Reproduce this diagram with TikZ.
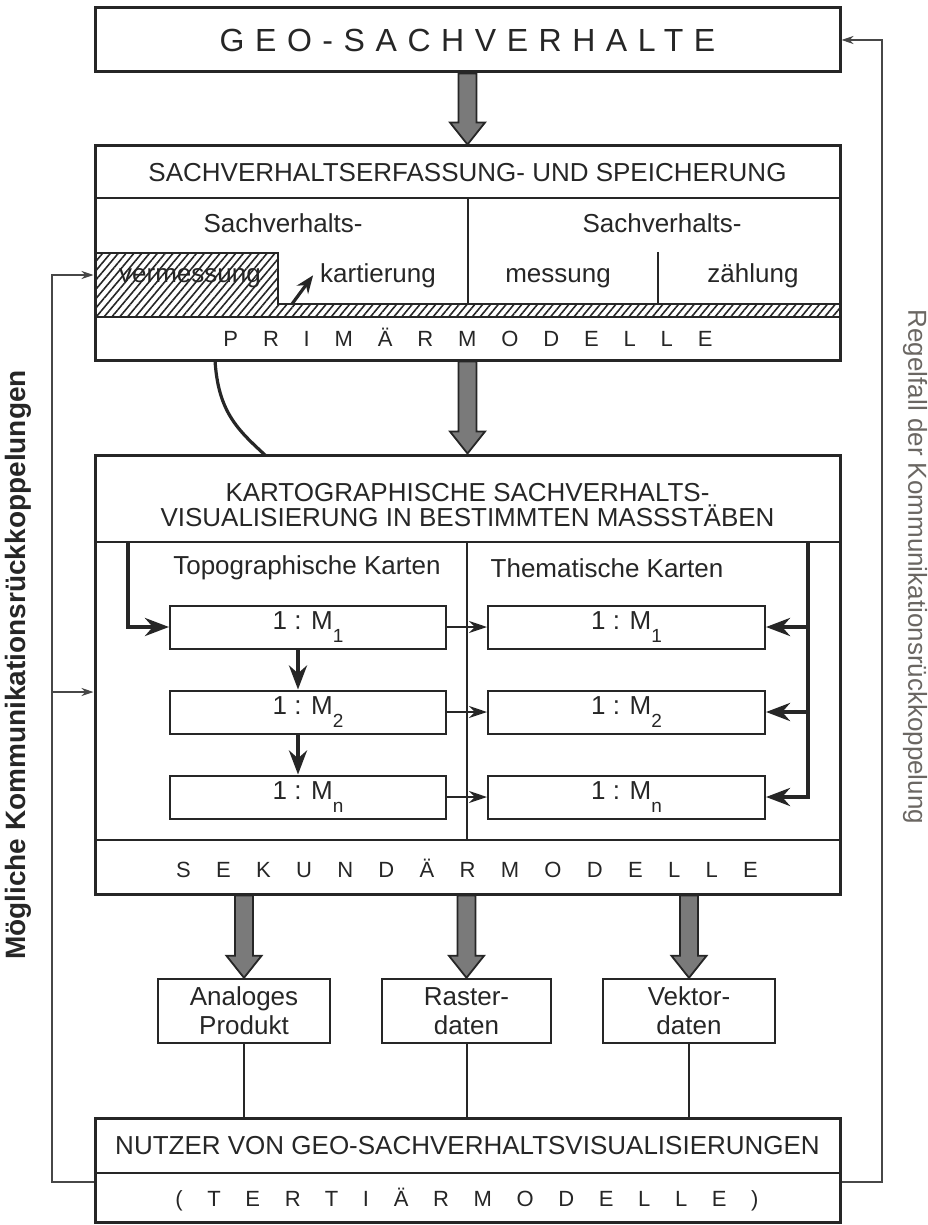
\documentclass[tikz,border=0pt]{standalone}
\usepackage{fontspec}
\setmainfont{Liberation Sans}
\usetikzlibrary{arrows.meta,calc,patterns.meta}
\definecolor{ink}{HTML}{262626}
\definecolor{fatgray}{HTML}{7A7A7A}
\definecolor{notegray}{HTML}{6A6662}

% letter-spaced capitals
\newcommand{\spc}[2]{{\addfontfeature{LetterSpace=#1}#2}}
\newcommand{\msub}[1]{\raisebox{-6.5pt}{\fontsize{9.5}{10}\selectfont #1}}
% broad grey arrow between two points
\newcommand{\fatarrow}[2]{%
  \draw[fat] let \p1=(#1), \p2=(#2) in
    (\x1-4.5pt,\y1) -- (\x1-4.5pt,\y2+11pt) -- (\x1-8.75pt,\y2+11pt)
    -- (\x1,\y2) -- (\x1+8.75pt,\y2+11pt) -- (\x1+4.5pt,\y2+11pt)
    -- (\x1+4.5pt,\y1) -- cycle;}

\begin{document}
\begin{tikzpicture}[x=0.5pt, y=-0.5pt,
  font=\fontsize{13}{15}\selectfont, text=ink,
  mainbox/.style={draw=ink, line width=1.5pt, inner sep=0pt,
                  minimum width=372.5pt},
  cell/.style={draw=ink, line width=1pt, inner sep=0pt, minimum height=21.5pt},
  prod/.style={draw=ink, line width=1.2pt, inner sep=0pt, align=center,
               minimum width=86pt, minimum height=32pt,
               font=\fontsize{13}{14.5}\selectfont},
  divline/.style={draw=ink, line width=1pt},
  spaced/.style={font=\fontsize{11}{13}\selectfont},
  fat/.style={draw=ink, line width=0.9pt, fill=fatgray},
  midarr/.style={draw=ink, line width=2.2pt, -{Stealth[length=12pt,width=9pt]}},
  link/.style={draw=ink, line width=0.8pt, -{Stealth[length=9pt,width=6pt]}},
  fbarr/.style={draw=ink!85, line width=0.6pt, -{Stealth[length=6pt,width=4pt]}},
]
\useasboundingbox (0,0) rectangle (927,1225);

% ---- geo facts ----
\node[mainbox, minimum height=32pt] (geo) at (467.5,40)
  {\fontsize{16}{18}\selectfont\spc{33}{GEO-SACHVERHALTE}};

% ---- capture and storage ----
\node[mainbox, minimum height=107pt] (erf) at (467.5,253) {};
\node (erft) at (467.5,173) {SACHVERHALTSERFASSUNG- UND SPEICHERUNG};
\draw[divline] (95,198) -- (840,198);
\draw[divline, pattern={Lines[angle=50,distance=3pt,line width=0.8pt]},
  pattern color=ink]
  (95,253) -- (278,253) -- (278,304) -- (840,304) -- (840,317) -- (95,317) -- cycle;
\draw[divline] (468,198) -- (468,304);
\draw[divline] (658,252) -- (658,304);
\node[anchor=base] (sv1) at (283,233) {Sachverhalts-};
\node[anchor=base] (sv2) at (662,233) {Sachverhalts-};
\node[anchor=base] (verm) at (190,282) {vermessung};
\node[anchor=base] (kar) at (378,282) {kartierung};
\node[anchor=base] (mess) at (558,282) {messung};
\node[anchor=base] (zahl) at (753,282) {zählung};
\coordinate (kbase) at (292,304);
\draw[midarr, line width=1.6pt, -{Stealth[length=9pt,width=7pt]}] (kbase) -- (kar.west);
\node[spaced] (prim) at (468,337) {\spc{113}{PRIMÄRMODELLE}};

% ---- cartographic visualisation ----
\node[mainbox, minimum height=219.5pt] (kart) at (467.5,674.5) {};
\node[align=center, font=\fontsize{13}{12.5}\selectfont] (kartt) at (467.5,505.5)
  {KARTOGRAPHISCHE SACHVERHALTS-\\VISUALISIERUNG IN BESTIMMTEN MASSSTÄBEN};
\draw[divline] (95,542) -- (840,542);
\draw[divline] (95,840) -- (840,840);
\draw[divline] (467,542) -- (467,840);
\node (topo) at (307,568) {Topographische Karten};
\node (thema) at (607,568) {Thematische Karten};

\node[cell, minimum width=138pt] (t1) at (308,627) {1 : M\msub{1}};
\node[cell, minimum width=138pt] (t2) at (308,712) {1 : M\msub{2}};
\node[cell, minimum width=138pt] (t3) at (308,797) {1 : M\msub{n}};
\node[cell, minimum width=138.5pt] (m1) at (626.5,627) {1 : M\msub{1}};
\node[cell, minimum width=138.5pt] (m2) at (626.5,712) {1 : M\msub{2}};
\node[cell, minimum width=138.5pt] (m3) at (626.5,797) {1 : M\msub{n}};

\coordinate (lt) at (128,542);
\coordinate (rt) at (808,542);
\draw[midarr] (lt) |- (t1.west);
\draw[midarr] ([xshift=-5pt]t1.south) -- ([xshift=-5pt]t2.north);
\draw[midarr] ([xshift=-5pt]t2.south) -- ([xshift=-5pt]t3.north);
\draw[midarr] (rt) |- (m3.east);
\draw[midarr] (m1.east -| rt) -- (m1.east);
\draw[midarr] (m2.east -| rt) -- (m2.east);
\draw[link] (t1.east) -- (m1.west);
\draw[link] (t2.east) -- (m2.west);
\draw[link] (t3.east) -- (m3.west);
\node[spaced] (sek) at (467,868) {\spc{115}{SEKUNDÄRMODELLE}};

% ---- products ----
\node[prod] (ana) at (244,1011) {Analoges\\Produkt};
\node[prod, minimum width=84.5pt] (ras) at (466.5,1011) {Raster-\\daten};
\node[prod] (vek) at (689,1011) {Vektor-\\daten};

% ---- users ----
\node[mainbox, minimum height=52pt] (nutz) at (467.5,1170) {};
\draw[divline] (95,1173) -- (840,1173);
\node (nutzt) at (467.5,1146) {NUTZER VON GEO-SACHVERHALTSVISUALISIERUNGEN};
\node[spaced] (tert) at (467,1200) {\spc{112}{(TERTIÄRMODELLE)}};

% ---- flow ----
\fatarrow{geo.south}{erf.north}
\fatarrow{erf.south}{kart.north}
\fatarrow{ana.north |- kart.south}{ana.north}
\fatarrow{ras.north |- kart.south}{ras.north}
\fatarrow{vek.north |- kart.south}{vek.north}
\coordinate (c1) at (215,360);
\coordinate (c2) at (265,455);
\draw[ink, line width=1.6pt] (c1) .. controls (218,412) and (238,430) .. (c2);
\draw[divline] (ana.south) -- (ana.south |- nutz.north);
\draw[divline] (ras.south) -- (ras.south |- nutz.north);
\draw[divline] (vek.south) -- (vek.south |- nutz.north);

% ---- feedback ----
\coordinate (lb) at (52,1182);
\coordinate (rb) at (882,1182);
\coordinate (ein) at ([yshift=-11pt]erf.west);
\coordinate (kin) at ([yshift=-8.75pt]kart.west);
\draw[fbarr] (nutz.west |- lb) -- (lb) |- (ein);
\draw[fbarr] (kin -| lb) -- (kin);
\draw[fbarr] (nutz.east |- rb) -- (rb) |- (geo.east);
\node[rotate=90, font=\bfseries\fontsize{14}{16}\selectfont] (moegl) at (18,665)
  {Mögliche Kommunikationsrückkoppelungen};
\node[rotate=-90, text=notegray] (regel) at (915,567)
  {Regelfall der Kommunikationsrückkoppelung};
\end{tikzpicture}
\end{document}
